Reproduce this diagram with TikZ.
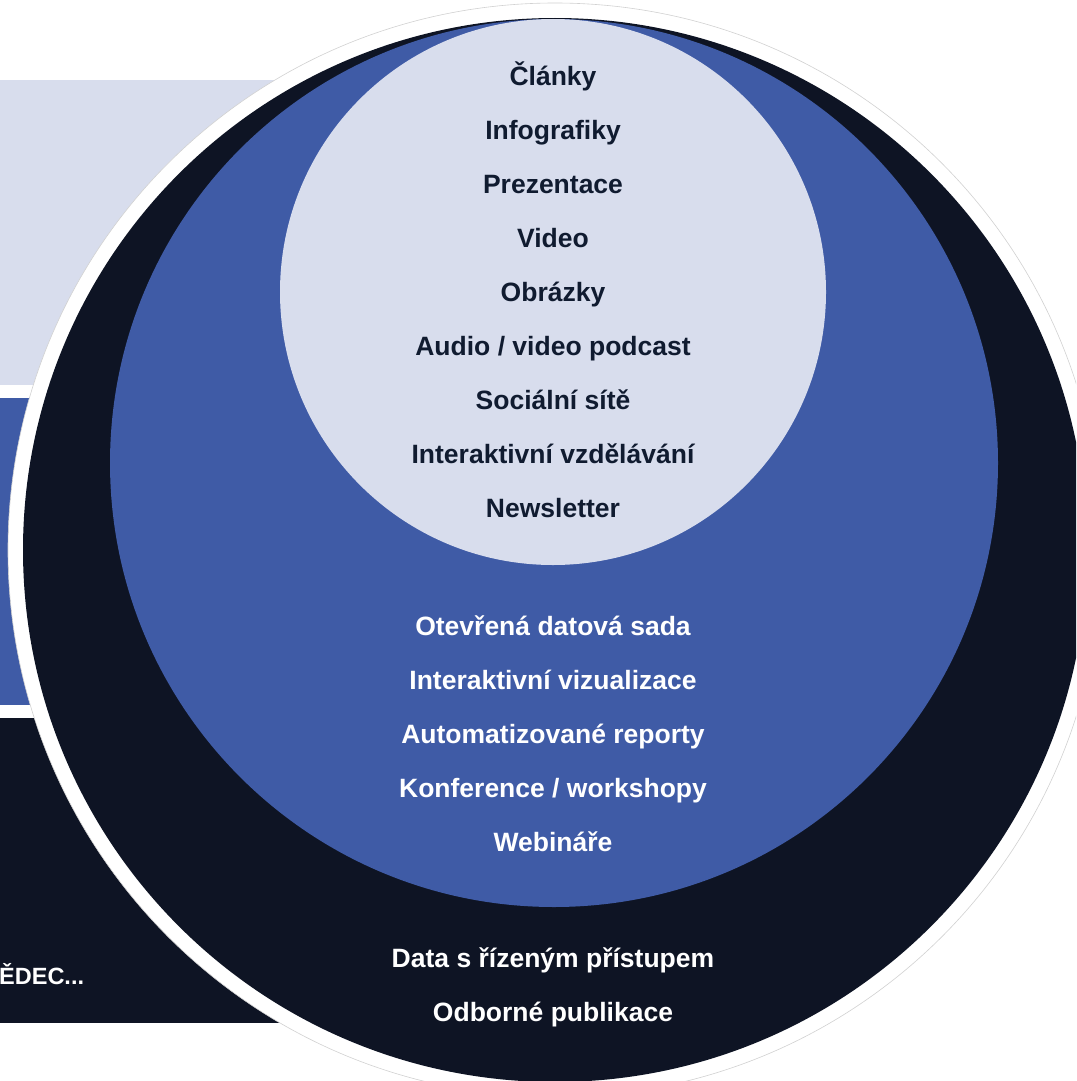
\documentclass[tikz,border=0pt]{standalone}
\usepackage{fontspec}
\setmainfont{Liberation Sans}
\definecolor{lightband}{RGB}{216,221,237}
\definecolor{midblue}{RGB}{63,91,166}
\definecolor{darknavy}{RGB}{14,20,36}
\definecolor{inktext}{RGB}{16,27,48}
\tikzset{
  band/.style={fill=#1},
  item/.style={anchor=base, inner sep=0pt, font=\fontsize{26.5}{30}\selectfont\bfseries},
  darkitem/.style={item, text=inktext},
  whiteitem/.style={item, text=white}
}
\begin{document}
\begin{tikzpicture}[x=1pt,y=-1pt]
\useasboundingbox (0,0) rectangle (1076,1081);
\clip (0,0) rectangle (1076,1081);
\fill[white] (0,0) rectangle (1076,1081);
% left bands
\fill[band=lightband] (0,80) rectangle (600,385);
\fill[band=midblue] (0,398) rectangle (600,705);
\fill[band=darknavy] (0,718) rectangle (600,1023);
\node[whiteitem, anchor=base west, font=\fontsize{23.5}{28}\selectfont\bfseries] (vedec) at (-1,984) {ĚDEC...};
% circles
\fill[white, draw=black!18, line width=0.6pt] (555,550) circle[radius=547pt];
\fill[darknavy] (555,550) circle[radius=532pt];
\fill[midblue] (554,463) circle[radius=444pt];
\fill[lightband] (553,292) circle[radius=273pt];
% inner texts
\node[darkitem] (t1) at (553,85) {Články};
\node[darkitem] (t2) at (553,139) {Infografiky};
\node[darkitem] (t3) at (553,193) {Prezentace};
\node[darkitem] (t4) at (553,247) {Video};
\node[darkitem] (t5) at (553,301) {Obrázky};
\node[darkitem] (t6) at (553,355) {Audio / video podcast};
\node[darkitem] (t7) at (553,409) {Sociální sítě};
\node[darkitem] (t8) at (553,463) {Interaktivní vzdělávání};
\node[darkitem] (t9) at (553,517) {Newsletter};
% middle texts
\node[whiteitem] (m1) at (553,635) {Otevřená datová sada};
\node[whiteitem] (m2) at (553,689) {Interaktivní vizualizace};
\node[whiteitem] (m3) at (553,743) {Automatizované reporty};
\node[whiteitem] (m4) at (553,797) {Konference / workshopy};
\node[whiteitem] (m5) at (553,851) {Webináře};
% outer texts
\node[whiteitem] (o1) at (553,967) {Data s řízeným přístupem};
\node[whiteitem] (o2) at (553,1021) {Odborné publikace};
\end{tikzpicture}
\end{document}
